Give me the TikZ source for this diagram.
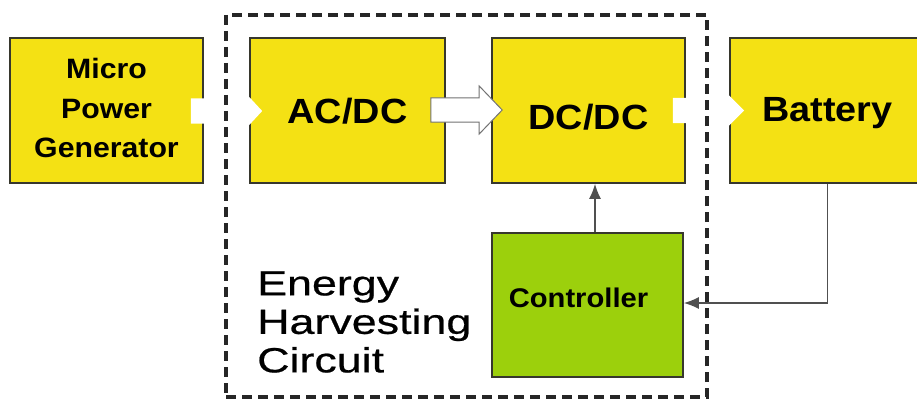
\documentclass[tikz,border=0pt]{standalone}
\usepackage{fontspec}
\setmainfont{Liberation Sans}
\newfontfamily\blockfont[FakeStretch=1.08]{Liberation Sans Bold}
\newfontfamily\ehfont[FakeStretch=1.28,FakeBold=0.6]{Liberation Sans}
\usetikzlibrary{calc,arrows.meta}
\definecolor{blockyellow}{RGB}{244,225,20}
\definecolor{ctrlgreen}{RGB}{156,208,12}
\definecolor{edge}{RGB}{55,55,45}
\definecolor{wire}{RGB}{80,80,80}
\tikzset{
  blockbox/.style={draw=edge, line width=1.6pt, fill=blockyellow, minimum height=145pt, inner sep=0pt, align=center, font=\blockfont},
  bigtext/.style={font=\blockfont\fontsize{35}{38}\selectfont},
  ctrlbox/.style={draw=edge, line width=1.6pt, fill=ctrlgreen, minimum width=191pt, minimum height=144pt, inner sep=0pt},
  dashbox/.style={draw=black!85, line width=3.6pt, dash pattern=on 10pt off 6pt, minimum width=481pt, minimum height=382pt, inner sep=0pt},
  fat/.style n args={3}{to path={let \p1=(\tikztostart), \p2=(\tikztotarget) in
     (\x1,\y1-#1) -- (\x2-#3,\y1-#1) -- (\x2-#3,\y1-#2) -- (\x2,\y1) -- (\x2-#3,\y1+#2) -- (\x2-#3,\y1+#1) -- (\x1,\y1+#1) -- cycle}},
  whitearrow/.style={fill=white, draw=none},
  outlinearrow/.style={fill=white, draw=black!55, line width=1pt, line join=miter},
  wireline/.style={draw=wire, line width=1.5pt, -{Latex[length=15pt,width=12pt]}},
}
\begin{document}
\begin{tikzpicture}[x=1pt,y=-1pt]
\useasboundingbox (0,0) rectangle (917,401);
\clip (0,0) rectangle (917,401);
\fill[white] (0,0) rectangle (917,401);
% blocks
\node[blockbox, minimum width=193pt, label={[align=center,yshift=2.5pt,font=\blockfont\fontsize{28}{39.5}\selectfont]center:Micro\\Power\\Generator}] (mpg) at (106.5,110.5) {};
\node[blockbox, minimum width=195pt, label={[bigtext,yshift=-1pt]center:AC/DC}] (acdc) at (347.5,110.5) {};
\node[blockbox, minimum width=193pt, label={[bigtext,yshift=-7pt]center:DC/DC}] (dcdc) at (588.5,110.5) {};
\node[blockbox, minimum width=195pt, label={[bigtext,yshift=-3pt]center:Battery}] (batt) at (827.5,110.5) {};
\node[ctrlbox, label={[xshift=-9pt,yshift=7pt,font=\blockfont\fontsize{27}{30}\selectfont]center:Controller}] (ctrl) at (587.5,305) {};
% block arrows
\path[whitearrow] ($(mpg.east)+(-13,0.5)$) to[fat={12.5pt}{14pt}{13pt}] ($(acdc.west)+(13,0.5)$);
\path[outlinearrow] ($(acdc.east)+(-15,-0.5)$) to[fat={12pt}{24pt}{23pt}] ($(dcdc.west)+(11,-0.5)$);
\path[whitearrow] ($(dcdc.east)+(-13,0)$) to[fat={12.5pt}{15pt}{15pt}] ($(batt.west)+(15,0)$);
% dashed enclosure
\node[dashbox] (ehc) at (466.5,206) {};
\node[anchor=west, align=left, font=\ehfont\fontsize{35}{38.5}\selectfont, inner sep=0pt] (ehtext) at (257,322) {Energy\\Harvesting\\Circuit};
% control wires
\draw[wireline] ([xshift=7.5pt]ctrl.north) -- ([xshift=7.5pt]ctrl.north |- dcdc.south);
\draw[wireline] (batt.south) |- ([yshift=2pt]ctrl.east);
\end{tikzpicture}
\end{document}
